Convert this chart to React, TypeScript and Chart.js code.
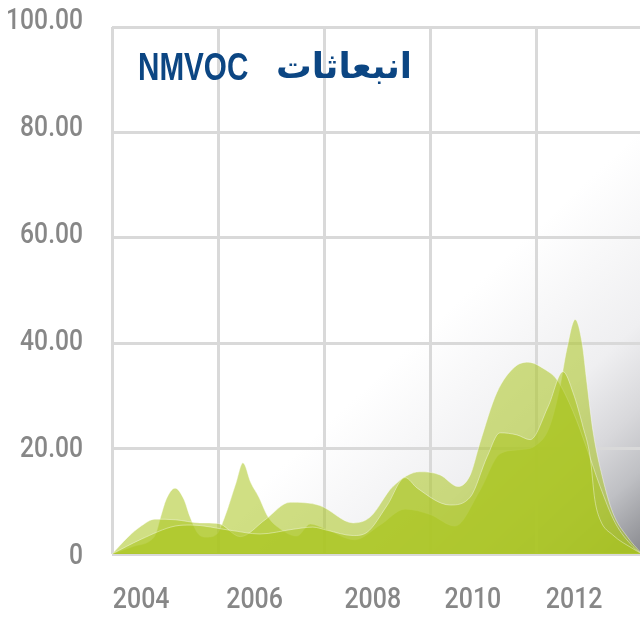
import React, { useEffect, useRef } from 'react';
import { Chart, registerables } from 'chart.js';

Chart.register(...registerables);

// ---- data (x in plot units: 0..10 across the plot width, one grid column = 2 units) ----
const yearLabels = ['2004', '2006', '2008', '2010', '2012'];
const yearLabelPos = [0.55, 2.69, 4.92, 6.81, 8.72];
const yTickValues = [0, 20, 40, 60, 80, 100];

const peakX = [0, 0.43, 0.72, 0.83, 0.92, 1.02, 1.19, 1.36, 1.47, 1.62, 1.79, 1.98, 2.13, 2.34, 2.47, 2.62, 2.77, 2.94, 3.17, 3.49, 3.74, 4.02, 4.58, 5.06, 5.53, 6.0, 6.47, 6.94, 7.32, 7.7, 7.98, 8.25, 8.45, 8.58, 8.74, 8.87, 8.96, 9.08, 9.25, 9.45, 9.72, 10];
const peakY = [0, 1.5, 2.5, 3.9, 7.1, 10.3, 12.5, 10.3, 7.1, 3.9, 3.2, 3.8, 7.1, 13.5, 17.3, 13.5, 10.8, 7.1, 4.8, 3.4, 5.7, 4.8, 2.7, 5.5, 8.5, 7.5, 5.3, 12, 19, 19.8, 20.5, 24, 31.6, 38.8, 44.5, 40, 32.5, 23, 14.7, 7.8, 3.3, 0];

const midX = [0, 0.55, 1.19, 1.49, 2.23, 2.79, 3.42, 3.79, 4.06, 4.55, 4.81, 5.19, 5.53, 5.76, 6.38, 6.76, 7.08, 7.32, 7.64, 7.89, 8.23, 8.51, 8.7, 8.89, 9.02, 9.11, 9.21, 9.45, 9.83, 10];
const midY = [0, 2.8, 5.3, 5.5, 4.5, 3.8, 4.7, 5.1, 4.5, 3.5, 4.1, 9.2, 14.5, 12.5, 9.3, 10.8, 18.5, 23, 22.6, 21.7, 28, 34.6, 30.6, 24, 18.5, 10.3, 6.5, 3.6, 1, 0];

const humpX = [0, 0.3, 0.55, 0.81, 1.19, 1.66, 2.0, 2.42, 2.89, 3.36, 3.92, 4.55, 4.87, 5.3, 5.81, 6.19, 6.53, 6.76, 6.94, 7.26, 7.6, 7.85, 8.17, 8.4, 8.7, 8.96, 9.21, 9.49, 9.83, 10];
const humpY = [0, 3.2, 5.3, 6.6, 6.5, 5.9, 5.8, 3.3, 6.5, 9.8, 9.2, 5.9, 7, 12.8, 15.6, 15, 12.8, 15, 21, 30.6, 35.5, 36.4, 35, 33, 27, 20, 12.8, 6, 1.4, 0];

const titleLatin = 'NMVOC';
const titleArabic = 'انبعاثات';

const pts = (xs: number[], ys: number[]) => xs.map((x, i) => ({ x, y: ys[i] }));

const LABEL_FONT = "Roboto, 'Liberation Sans', Arial, sans-serif";
const TITLE_FONT = "'Liberation Sans', Arial, sans-serif";
const GRID = '#d9d9d9';
const LABEL = '#878787';
const FILL = 'rgba(170, 196, 30, 0.55)';
const EDGE = 'rgba(255, 255, 255, 0.4)';

function drawCondensed(ctx: CanvasRenderingContext2D, text: string, x: number, y: number, align: CanvasTextAlign, sx: number) {
  ctx.save();
  ctx.translate(x, y);
  ctx.scale(sx, 1);
  ctx.textAlign = align;
  ctx.fillText(text, 0, 0);
  ctx.restore();
}

export default function App() {
  const ref = useRef<HTMLCanvasElement>(null);

  useEffect(() => {
    if (!ref.current) return;

    const bgPlugin = {
      id: 'bgGradient',
      beforeDraw(chart: any) {
        const { ctx, chartArea } = chart;
        const { left, top, right, bottom } = chartArea;
        const w = right - left;
        const h = bottom - top;
        const g = ctx.createLinearGradient(left + 0.6 * w, top + 0.57 * h, right, bottom);
        g.addColorStop(0, '#ffffff');
        g.addColorStop(0.45, '#efeff1');
        g.addColorStop(0.65, '#d8d8db');
        g.addColorStop(0.8, '#bfc0c4');
        g.addColorStop(1, '#88898e');
        ctx.save();
        ctx.fillStyle = g;
        ctx.fillRect(left, top, w, h);
        ctx.restore();
      },
    };

    const textPlugin = {
      id: 'texts',
      afterDraw(chart: any) {
        const { ctx } = chart;
        const xs = chart.scales.x;
        const yl = chart.scales.yLabels;
        ctx.save();
        ctx.fillStyle = LABEL;
        ctx.textBaseline = 'middle';
        ctx.font = `500 29px ${LABEL_FONT}`;
        yTickValues.forEach((v) => {
          const txt = v === 0 ? '0' : v.toFixed(2);
          drawCondensed(ctx, txt, 83, yl.getPixelForValue(v), 'right', 0.85);
        });
        yearLabels.forEach((lab, i) => {
          drawCondensed(ctx, lab, xs.getPixelForValue(yearLabelPos[i]), xs.top + 47, 'center', 0.86);
        });

        // title
        ctx.fillStyle = '#0c4683';
        ctx.textBaseline = 'alphabetic';
        ctx.font = `bold 38px ${TITLE_FONT}`;
        drawCondensed(ctx, titleLatin, 138, 80, 'left', 0.78);
        ctx.font = "bold 35px 'DejaVu Sans', 'Noto Sans', sans-serif";
        const wAr = ctx.measureText(titleArabic).width;
        const sAr = wAr > 0 ? 136 / wAr : 1;
        drawCondensed(ctx, titleArabic, 412, 78, 'right', sAr);
        ctx.restore();
      },
    };

    const mk = (data: { x: number; y: number }[]) => ({
      data,
      fill: 'origin',
      backgroundColor: FILL,
      borderColor: EDGE,
      borderWidth: 1,
      pointRadius: 0,
      tension: 0.4,
      cubicInterpolationMode: 'monotone' as const,
    });

    const chart = new Chart(ref.current, {
      type: 'line',
      data: {
        datasets: [mk(pts(midX, midY)), mk(pts(humpX, humpY)), mk(pts(peakX, peakY))],
      },
      plugins: [bgPlugin, textPlugin],
      options: {
        responsive: false,
        animation: false,
        devicePixelRatio: 1,
        layout: { padding: { top: 27, right: 8, left: 0, bottom: 0 } },
        plugins: { legend: { display: false }, tooltip: { enabled: false } },
        scales: {
          x: {
            type: 'linear',
            position: 'bottom',
            min: 0,
            max: 10,
            ticks: { display: false, stepSize: 2 },
            grid: { color: GRID, lineWidth: 3, drawTicks: false },
            border: { display: false },
            afterFit: (s: any) => {
              s.height = 64;
            },
          },
          y: {
            min: 0,
            max: 100,
            ticks: { display: false, stepSize: 20 },
            grid: { color: GRID, lineWidth: 3, drawTicks: false },
            border: { display: false },
            afterFit: (s: any) => {
              s.width = 112;
            },
          },
          yLabels: {
            type: 'linear',
            position: 'left',
            display: false,
            min: 0.5,
            max: 99.06,
          },
        },
      } as any,
    });

    return () => chart.destroy();
  }, []);

  return (
    <div style={{ position: 'fixed', left: 0, top: 0, width: 640, height: 618, overflow: 'hidden', background: '#fff' }}>
      <canvas ref={ref} width={650} height={618} style={{ display: 'block' }} />
    </div>
  );
}
